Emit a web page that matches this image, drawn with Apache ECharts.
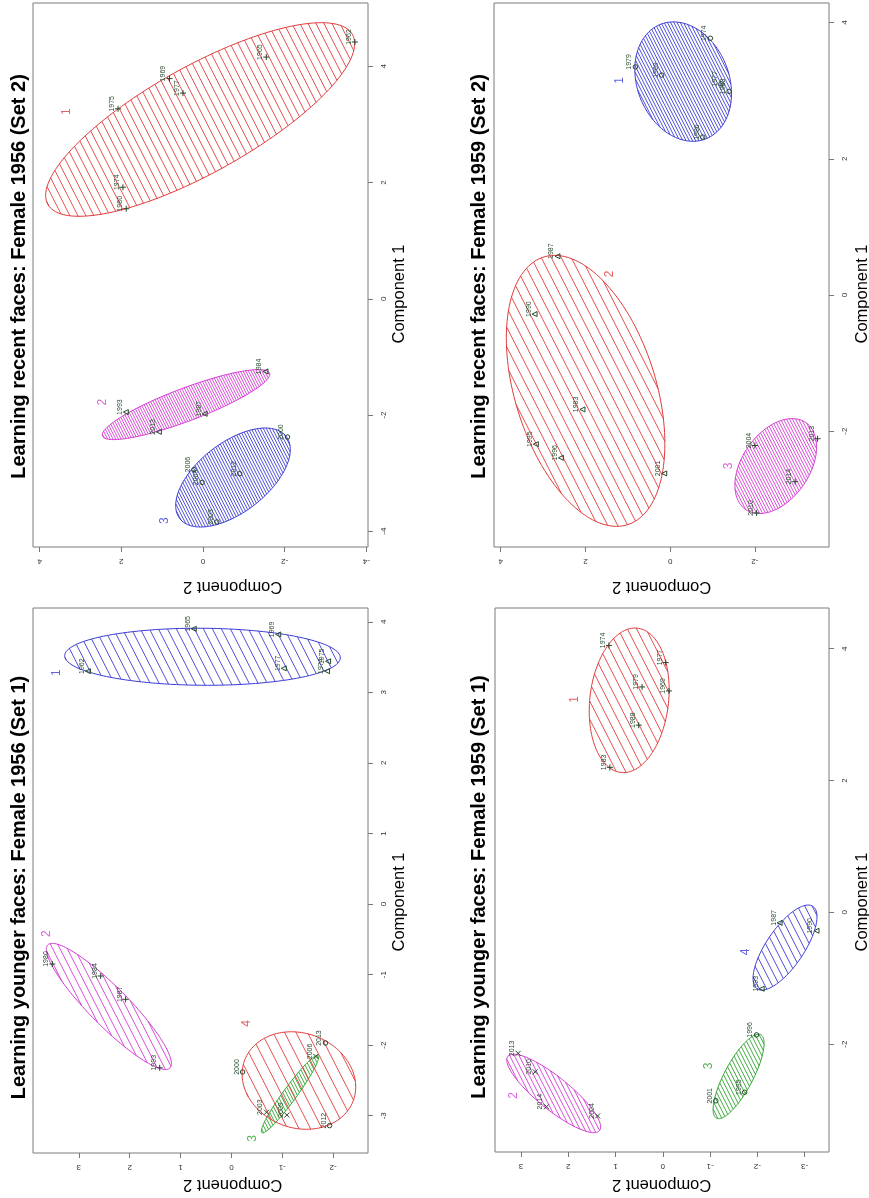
<!DOCTYPE html>
<html><head><meta charset="utf-8">
<script src="https://cdn.jsdelivr.net/npm/echarts@6/dist/echarts.min.js"></script>
<style>html,body{margin:0;padding:0;background:#fff}#chart{width:869px;height:1198px}</style>
</head><body><div id="chart"></div>
<script>
// ---------------- DATA ----------------
const panelTitles = [
  'Learning recent faces: Female 1956 (Set 2)',
  'Learning recent faces: Female 1959 (Set 2)',
  'Learning younger faces: Female 1956 (Set 1)',
  'Learning younger faces: Female 1959 (Set 1)'
];
const axisName1 = 'Component 1';
const axisName2 = 'Component 2';

// tick values per panel
const ticksComp2 = [[-4,-2,0,2,4],[-2,0,2,4],[-2,-1,0,1,2,3],[-3,-2,-1,0,1,2,3]];
const ticksComp1 = [[-4,-2,0,2,4],[-2,0,2,4],[-3,-2,-1,0,1,2,3,4],[-2,0,2,4]];

// points: [label, cluster, component 1, component 2]
const recent1956Points = [
  ['1962',1,4.42,-3.72],['1965',1,4.16,-1.55],['1969',1,3.79,0.82],['1977',1,3.54,0.49],
  ['1975',1,3.27,2.08],['1974',1,1.92,1.96],['1980',1,1.55,1.88],
  ['1984',2,-1.25,-1.53],['1993',2,-1.95,1.89],['1987',2,-1.98,-0.04],['2013',2,-2.29,1.08],
  ['2000',3,-2.38,-2.07],['2006',3,-2.94,0.22],['2009',3,-3.16,0.02],['2012',3,-3.01,-0.90],['2003',3,-3.84,-0.34]
];
const recent1959Points = [
  ['1979',1,3.35,0.82],['1969',1,3.23,0.20],['1974',1,3.77,-0.95],['1977',1,3.10,-1.20],
  ['1983',1,2.99,-1.39],['1986',1,2.32,-0.77],
  ['1987',2,0.57,2.66],['1990',2,-0.28,3.20],['1983',2,-1.68,2.07],['1995',2,-2.19,3.17],
  ['1996',2,-2.39,2.58],['2001',2,-2.62,0.14],
  ['2004',3,-2.21,-2.00],['2013',3,-2.11,-3.48],['2014',3,-2.74,-2.95],['2010',3,-3.20,-2.04]
];
const younger1956Points = [
  ['1962',1,3.30,2.82],['1965',1,3.90,0.74],['1969',1,3.82,-0.92],['1977',1,3.34,-1.03],
  ['1975',1,3.44,-1.90],['1974',1,3.30,-1.88],
  ['1980',2,-0.85,3.52],['1984',2,-1.02,2.57],['1987',2,-1.35,2.08],['1993',2,-2.32,1.41],
  ['2006',3,-2.16,-1.66],['2003',3,-2.95,-0.69],['2009',3,-2.99,-1.09],
  ['2000',4,-2.38,-0.22],['2013',4,-1.97,-1.85],['2012',4,-3.14,-1.93]
];
const younger1959Points = [
  ['1974',1,4.05,1.14],['1977',1,3.79,-0.06],['1979',1,3.42,0.44],['1969',1,3.36,-0.13],
  ['1988',1,2.84,0.51],['1983',1,2.20,1.12],
  ['2013',2,-2.14,3.06],['2010',2,-2.42,2.70],['2014',2,-2.95,2.46],['2004',2,-3.09,1.38],
  ['1996',3,-1.86,-1.98],['1995',3,-2.73,-1.73],['2001',3,-2.86,-1.12],
  ['1987',4,-0.16,-2.47],['1990',4,-0.28,-3.25],['1993',4,-1.16,-2.09]
];

// cluster ellipses: [cluster, centre comp1, centre comp2, var comp1, cov, var comp2]
const recent1956Ellipses = [
  [1,3.086,0.069,2.776,-4.944,14.32],
  [2,-1.821,0.416,0.3629,-1.069,4.202],
  [3,-3.076,-0.735,0.7259,-0.6764,1.9695]
];
const recent1959Ellipses = [
  [1,3.134,-0.307,0.7685,0.2011,1.302],
  [2,-1.407,1.996,3.959,1.4506,3.501],
  [3,-2.512,-2.492,0.4865,-0.2703,0.929]
];
const younger1956Ellipses = [
  [1,3.504,0.568,0.1635,0.0384,7.338],
  [2,-1.451,2.408,0.7988,0.9935,1.5095],
  [3,-2.693,-1.152,0.303,-0.2969,0.3183],
  [4,-2.501,-1.327,0.4773,0.1014,1.2467]
];
const younger1959Ellipses = [
  [1,3.217,0.712,1.203,-0.1348,0.7142],
  [2,-2.748,2.309,0.3546,0.5053,0.9861],
  [3,-2.49,-1.602,0.4109,-0.2693,0.2903],
  [4,-0.535,-2.584,0.4168,-0.3163,0.4571]
];

// cluster number tags: [cluster, comp1, comp2]
const recent1956Tags = [[1,3.22,3.35],[2,-1.78,2.46],[3,-3.82,0.94]];
const recent1959Tags = [[1,3.15,1.19],[2,0.31,1.43],[3,-2.51,-1.37]];
const younger1956Tags = [[1,3.28,3.44],[2,-0.42,3.64],[3,-3.32,-0.41],[4,-1.69,-0.31]];
const younger1959Tags = [[1,3.23,1.86],[2,-2.78,3.15],[3,-2.33,-0.97],[4,-0.60,-1.75]];

// ---------------- STYLE / LAYOUT ----------------
const FONT = '"Liberation Sans", Arial, sans-serif';
const PT_COLOR = '#25492b';
const HATCH_ANGLE = 63;
const COLORS = {red:'#e23b3b', blue:'#3c3cd4', magenta:'#d33cd3', green:'#2ea42e'};
const SYMBOLS = {
  plus:{symbol:'path://M0,5L10,5M5,0L5,10', size:6, rot:0},
  cross:{symbol:'path://M0,0L10,10M10,0L0,10', size:5, rot:0},
  tri:{symbol:'triangle', size:5, rot:90},
  circ:{symbol:'circle', size:4.5, rot:0}
};
const panelStyles = [
  {colors:{1:'red',2:'magenta',3:'blue'}, symbols:{1:'plus',2:'tri',3:'circ'}, gaps:{1:8,2:2.7,3:3}},
  {colors:{1:'blue',2:'red',3:'magenta'}, symbols:{1:'circ',2:'tri',3:'plus'}, gaps:{1:3.2,2:10,3:3}},
  {colors:{1:'blue',2:'magenta',3:'green',4:'red'}, symbols:{1:'tri',2:'plus',3:'cross',4:'circ'}, gaps:{1:9,2:7.3,3:3.3,4:11.5}},
  {colors:{1:'red',2:'magenta',3:'green',4:'blue'}, symbols:{1:'plus',2:'cross',3:'circ',4:'tri'}, gaps:{1:9.3,2:4.7,3:4,4:7.3}}
];
const panelLayout = [
  {grid:{left:33,top:3,width:335,height:544}, c2Range:[-4.041,4.163], c1Range:[-4.272,5.091], titleAt:[19,276.5], name1At:[399,294], name2At:[232.7,587]},
  {grid:{left:494,top:3,width:335,height:544}, c2Range:[-3.749,4.158], c1Range:[-3.70,4.288], titleAt:[479.5,276.5], name1At:[862,294], name2At:[661.7,587]},
  {grid:{left:33,top:608,width:335,height:545}, c2Range:[-2.685,3.9], c1Range:[-3.528,4.195], titleAt:[19,887.5], name1At:[399,902], name2At:[232.7,1185]},
  {grid:{left:495,top:608,width:334,height:544}, c2Range:[-3.514,3.55], c1Range:[-3.637,4.618], titleAt:[479.5,887], name1At:[862,902], name2At:[661.7,1185]}
];
const panelPoints = [recent1956Points, recent1959Points, younger1956Points, younger1959Points];
const panelEllipses = [recent1956Ellipses, recent1959Ellipses, younger1956Ellipses, younger1959Ellipses];
const panelTags = [recent1956Tags, recent1959Tags, younger1956Tags, younger1959Tags];

// ---------------- BUILD ----------------
function hatchPath(pts, gapX, angleDeg) {
  const a = angleDeg * Math.PI / 180;
  const nx = -Math.sin(a), ny = Math.cos(a);
  const spacing = gapX * Math.abs(nx);
  const proj = pts.map(p => p[0] * nx + p[1] * ny);
  let mn = Infinity, mx = -Infinity;
  proj.forEach(v => { if (v < mn) mn = v; if (v > mx) mx = v; });
  let d = '';
  for (let h = Math.ceil(mn / spacing) * spacing; h <= mx; h += spacing) {
    const hits = [];
    for (let i = 0; i < pts.length; i++) {
      const j = (i + 1) % pts.length;
      const s1 = proj[i] - h, s2 = proj[j] - h;
      if ((s1 <= 0 && s2 > 0) || (s1 > 0 && s2 <= 0)) {
        const t = s1 / (s1 - s2);
        hits.push([pts[i][0] + (pts[j][0] - pts[i][0]) * t, pts[i][1] + (pts[j][1] - pts[i][1]) * t]);
      }
    }
    if (hits.length >= 2) {
      d += 'M' + hits[0][0].toFixed(2) + ',' + hits[0][1].toFixed(2) + 'L' + hits[1][0].toFixed(2) + ',' + hits[1][1].toFixed(2);
    }
  }
  return d;
}

function ellipseRenderer(color, gapX) {
  return function (params, api) {
    const c2 = api.value(0), c1 = api.value(1), s11 = api.value(2), s12 = api.value(3), s22 = api.value(4);
    const l11 = Math.sqrt(s11), l21 = s12 / l11, l22 = Math.sqrt(Math.max(s22 - l21 * l21, 0));
    const pts = [];
    const N = 140;
    for (let k = 0; k < N; k++) {
      const t = 2 * Math.PI * k / N;
      const v1 = c1 + l11 * Math.cos(t);
      const v2 = c2 + l21 * Math.cos(t) + l22 * Math.sin(t);
      pts.push(api.coord([v2, v1]));
    }
    return {
      type: 'group',
      children: [
        {type: 'path', shape: {pathData: hatchPath(pts, gapX, HATCH_ANGLE)}, style: {stroke: color, lineWidth: 0.9, fill: 'none'}},
        {type: 'polygon', shape: {points: pts}, style: {stroke: color, lineWidth: 1, fill: 'none'}}
      ]
    };
  };
}

const grids = [], xAxes = [], yAxes = [], series = [], graphics = [];
panelLayout.forEach((lay, i) => {
  grids.push(Object.assign({show: true, borderColor: '#7a7a7a', borderWidth: 1, backgroundColor: 'transparent'}, lay.grid));
  xAxes.push({
    type: 'value', gridIndex: i, inverse: true, position: 'bottom',
    min: lay.c2Range[0], max: lay.c2Range[1],
    axisLine: {show: false, onZero: false},
    splitLine: {show: false},
    axisTick: {show: true, length: 5, customValues: ticksComp2[i], lineStyle: {color: '#777'}},
    axisLabel: {show: true, customValues: ticksComp2[i], rotate: 180, margin: 10, fontSize: 8, color: '#333', fontFamily: FONT}
  });
  yAxes.push({
    type: 'value', gridIndex: i, position: 'right',
    min: lay.c1Range[0], max: lay.c1Range[1],
    axisLine: {show: false, onZero: false},
    splitLine: {show: false},
    axisTick: {show: true, length: 5, customValues: ticksComp1[i], lineStyle: {color: '#777'}},
    axisLabel: {show: true, customValues: ticksComp1[i], rotate: 90, margin: 12, fontSize: 8, color: '#333', fontFamily: FONT}
  });
  const st = panelStyles[i];
  // ellipses
  panelEllipses[i].forEach(e => {
    const col = COLORS[st.colors[e[0]]];
    series.push({
      type: 'custom', xAxisIndex: i, yAxisIndex: i, silent: true, z: 1, clip: true,
      renderItem: ellipseRenderer(col, st.gaps[e[0]]),
      encode: {x: 0, y: 1},
      data: [[e[2], e[1], e[3], e[4], e[5]]]
    });
  });
  // points by cluster
  const clusters = Object.keys(st.colors).map(Number);
  clusters.forEach(c => {
    const sym = SYMBOLS[st.symbols[c]];
    series.push({
      type: 'scatter', xAxisIndex: i, yAxisIndex: i, silent: true, z: 3,
      symbol: sym.symbol, symbolSize: sym.size, symbolRotate: sym.rot,
      itemStyle: {color: 'rgba(0,0,0,0)', borderColor: PT_COLOR, borderWidth: 1, opacity: 1},
      label: {show: true, position: 'inside', rotate: 90, offset: [5, -6], fontSize: 7, color: PT_COLOR, fontFamily: FONT,
              formatter: p => p.value[2]},
      data: panelPoints[i].filter(p => p[1] === c).map(p => [p[3], p[2], p[0]])
    });
  });
  // cluster tags
  panelTags[i].forEach(t => {
    const col = COLORS[st.colors[t[0]]];
    series.push({
      type: 'scatter', xAxisIndex: i, yAxisIndex: i, silent: true, z: 4,
      symbol: 'circle', symbolSize: 1, itemStyle: {color: 'rgba(0,0,0,0)'},
      label: {show: true, position: 'inside', rotate: 90, fontSize: 12, color: col, fontFamily: FONT, formatter: p => p.value[2]},
      data: [[t[2], t[1], String(t[0])]]
    });
  });
  // texts
  graphics.push({type: 'text', x: lay.titleAt[0], y: lay.titleAt[1], rotation: Math.PI / 2, silent: true,
    style: {text: panelTitles[i], font: 'bold 20px ' + FONT, fill: '#000', align: 'center', verticalAlign: 'middle'}});
  graphics.push({type: 'text', x: lay.name1At[0], y: lay.name1At[1], rotation: Math.PI / 2, silent: true,
    style: {text: axisName1, font: '16.5px ' + FONT, fill: '#000', align: 'center', verticalAlign: 'middle'}});
  graphics.push({type: 'text', x: lay.name2At[0], y: lay.name2At[1], rotation: Math.PI, silent: true,
    style: {text: axisName2, font: '16.5px ' + FONT, fill: '#000', align: 'center', verticalAlign: 'middle'}});
});

const chart = echarts.init(document.getElementById('chart'), null, {renderer: 'canvas'});
chart.setOption({
  animation: false,
  backgroundColor: '#fff',
  grid: grids, xAxis: xAxes, yAxis: yAxes, series: series, graphic: graphics
});
</script></body></html>
